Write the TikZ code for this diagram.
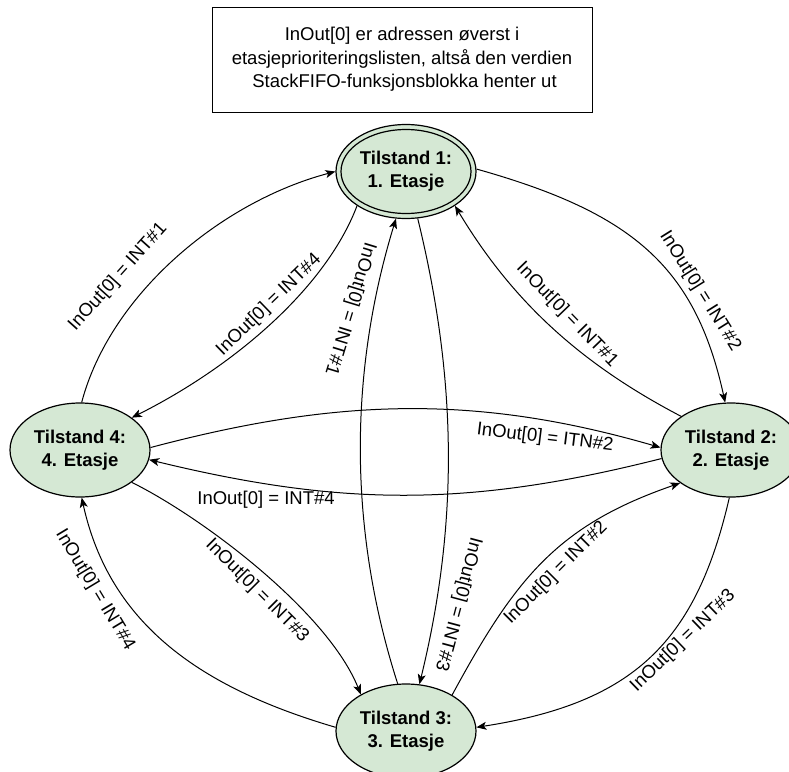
\documentclass[tikz,border=0pt]{standalone}
\usepackage{fontspec}
\setmainfont{Liberation Sans}
\usetikzlibrary{arrows.meta,shapes.geometric}
\definecolor{stfill}{HTML}{D5E8D4}
\begin{document}
\begin{tikzpicture}[x=1pt,y=-1pt,
  state/.style={ellipse, draw=black, line width=1.2pt, fill=stfill, minimum width=140pt, minimum height=94pt, inner sep=0pt, align=center, font=\fontsize{18.5}{23}\selectfont\bfseries},
  lbl/.style={inner sep=0pt, font=\fontsize{18.5}{23}\selectfont, text=black},
  conn/.style={line width=1pt, -{Stealth[length=10pt,width=8pt,inset=2.5pt]}},
  note/.style={draw=black, line width=1pt, minimum width=380pt, minimum height=105pt, align=center, font=\fontsize{18.5}{23.5}\selectfont}
]
\useasboundingbox (0,0) rectangle (789,771);

\node[note] (box) at (402,59.5) {InOut[0] er adressen øverst i\\etasjeprioriteringslisten, altså den verdien\\\hspace*{5pt}StackFIFO-funksjonsblokka henter ut};

\node[state] (t1) at (406,171.5) {Tilstand 1:\\1. Etasje};
\draw[line width=1.2pt] (t1.center) ellipse [x radius=65, y radius=42];
\node[state] (t4) at (80,450) {Tilstand 4:\\4. Etasje};
\node[state] (t2) at (731,450) {Tilstand 2:\\2. Etasje};
\node[state] (t3) at (406,731) {Tilstand 3:\\3. Etasje};

% edges
\draw[conn] (t4.88) .. controls (110,295) and (220,202) .. (t1.180);
\draw[conn] (t1.215) .. controls (325,290) and (231,368) .. (t4.32);
\draw[conn] (t3.100) .. controls (348,529) and (349,372) .. (t1.258);
\draw[conn] (t1.284) .. controls (457,379) and (459,522) .. (t3.74);
\draw[conn] (t1.2) .. controls (630.6,212.4) and (695,265) .. (t2.97);
\draw[conn] (t2.146) .. controls (579,363) and (511.5,300) .. (t1.325);
\draw[conn] (t4.2) .. controls (337,398) and (476,394) .. (t2.178);
\draw[conn] (t2.187) .. controls (470,507) and (343,507) .. (t4.352);
\draw[conn] (t4.328) .. controls (203.6,518) and (327.7,612) .. (t3.141);
\draw[conn] (t3.177) .. controls (201.6,688) and (109.7,625) .. (t4.272);
\draw[conn] (t3.38) .. controls (515.8,577.4) and (557.9,525.2) .. (t2.213);
\draw[conn] (t2.268) .. controls (696,642) and (634,703) .. (t3.3);

% labels
\node[lbl, rotate=48] (l1) at (118,277) {InOut[0] = INT\#1};
\node[lbl, rotate=44] (l2) at (269,305) {InOut[0] = INT\#4};
\node[lbl, rotate=-107] (l3) at (350,309) {InOut[0] = INT\#1};
\node[lbl, rotate=-105] (l4) at (458,604) {InOut[0] = INT\#3};
\node[lbl, rotate=-58] (l5) at (700,291) {InOut[0] = INT\#2};
\node[lbl, rotate=-46] (l6) at (567,315) {InOut[0] = INT\#1};
\node[lbl, rotate=-7] (l7) at (545,438) {InOut[0] = ITN\#2};
\node[lbl] (l8) at (266,500) {InOut[0] = INT\#4};
\node[lbl, rotate=-45] (l9) at (257,591) {InOut[0] = INT\#3};
\node[lbl, rotate=-59] (l10) at (95,590) {InOut[0] = INT\#4};
\node[lbl, rotate=45] (l11) at (556,573) {InOut[0] = INT\#2};
\node[lbl, rotate=44] (l12) at (683,641) {InOut[0] = INT\#3};
\end{tikzpicture}
\end{document}
